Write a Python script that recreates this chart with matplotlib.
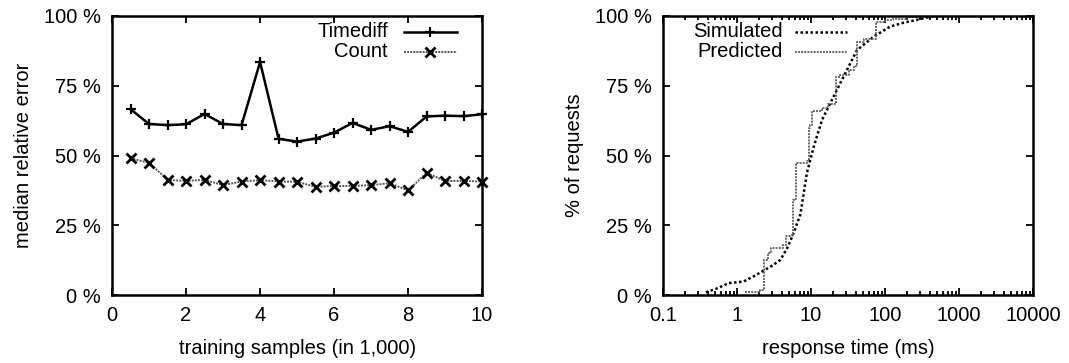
import matplotlib
matplotlib.use("Agg")
import matplotlib.pyplot as plt
from matplotlib.lines import Line2D
from matplotlib.ticker import FuncFormatter, LogLocator, NullFormatter

plt.rcParams["font.family"] = ["Liberation Sans", "DejaVu Sans"]
FS = 14.5

# training-set size (thousands) vs. median relative error (%)
samples = [0.5, 1.0, 1.5, 2.0, 2.5, 3.0, 3.5, 4.0, 4.5, 5.0,
           5.5, 6.0, 6.5, 7.0, 7.5, 8.0, 8.5, 9.0, 9.5, 10.0]
timediff = [66.6, 61.3, 60.9, 61.2, 64.9, 61.3, 60.9, 83.5, 56.0, 55.0,
            56.1, 58.2, 61.7, 59.2, 60.5, 58.5, 64.0, 64.3, 64.1, 64.8]
count = [49.0, 47.4, 41.3, 40.9, 41.3, 39.4, 40.7, 41.2, 40.7, 40.6,
         38.8, 39.1, 39.1, 39.4, 40.1, 37.5, 43.8, 40.9, 40.9, 40.7]

# response-time CDFs
sim_ms = [0.38, 0.55, 0.77, 1.0, 1.23, 1.7, 2.29, 3.0, 3.86, 4.8, 5.83, 7.2,
          8.8, 10.9, 14.1, 20.2, 27.6, 41.9, 70.3, 117, 180, 269, 455]
sim_pct = [1.0, 2.5, 4.3, 4.6, 4.9, 6.8, 8.8, 10.6, 12.6, 17.0, 22.2, 29.0,
           43.7, 53.2, 62.8, 71.1, 78.3, 87.8, 92.6, 96.2, 97.6, 98.6, 100.0]
pred_ms = [1.3, 2.05, 2.3, 2.6, 2.9, 4.2, 4.6, 5.6, 5.8, 6.2, 8.8, 9.3, 9.8,
           10.2, 14, 17, 21, 22, 25, 33, 38, 42, 52, 75, 100, 130, 200, 400]
pred_pct = [1.0, 1.7, 12.5, 15.0, 17.0, 18.0, 21.0, 22.0, 34.0, 47.3, 48.0,
            60.0, 61.0, 66.0, 67.0, 68.5, 69.0, 78.0, 79.0, 80.5, 82.0, 90.8,
            91.6, 98.0, 98.5, 99.0, 99.5, 100.0]

pct_fmt = FuncFormatter(lambda v, _: f"{v:.0f} %")


def style_axes(ax):
    for s in ax.spines.values():
        s.set_linewidth(1.8)
    ax.tick_params(which="both", direction="in", top=True, right=True,
                   width=1.3, labelsize=FS)
    ax.tick_params(which="major", length=5, pad=8)
    ax.tick_params(which="minor", length=3)
    ax.set_ylim(0, 100)
    ax.set_yticks([0, 25, 50, 75, 100])
    ax.yaxis.set_major_formatter(pct_fmt)


def key_entry(ax, y, label, span, style):
    x0, x1, xt = span
    ax.text(xt, y, label, transform=ax.transAxes, ha="right", va="center",
            fontsize=FS)
    line_kw = {k: v for k, v in style.items() if not k.startswith("marker")}
    ax.add_line(Line2D([x0, x1], [y, y], transform=ax.transAxes, **line_kw))
    if "marker" in style:
        ax.add_line(Line2D([(x0 + x1) / 2], [y], transform=ax.transAxes,
                           **dict(style, linestyle="none")))


fig = plt.figure(figsize=(10.69, 3.63), dpi=100)
ax1 = fig.add_axes([0.1048, 0.187, 0.3462, 0.769])
ax2 = fig.add_axes([0.6202, 0.187, 0.3461, 0.769])

td_style = dict(color="black", linestyle="-", linewidth=1.8, marker="+",
                markersize=7, markeredgewidth=1.6)
ct_style = dict(color="#555555", linestyle=(0, (1, 0.6)), linewidth=1.4,
                marker="x", markersize=6.5, markeredgewidth=2.0,
                markeredgecolor="black")
ax1.plot(samples, timediff, clip_on=False, **td_style)
ax1.plot(samples, count, clip_on=False, **ct_style)
style_axes(ax1)
ax1.set_xlim(0, 10)
ax1.set_xticks([0, 2, 4, 6, 8, 10])
ax1.set_xlabel("training samples (in 1,000)", fontsize=FS, labelpad=10)
ax1.set_ylabel("median relative error", fontsize=FS, labelpad=8)
key_entry(ax1, 0.943, "Timediff", (0.789, 0.932, 0.746), td_style)
key_entry(ax1, 0.871, "Count", (0.789, 0.932, 0.746), ct_style)

sim_style = dict(color="black", linestyle=(0, (1, 1)), linewidth=1.8)
pred_style = dict(color="#666666", linestyle=(0, (1, 0.6)), linewidth=1.4)
ax2.plot(sim_ms, sim_pct, **sim_style)
ax2.plot(pred_ms, pred_pct, drawstyle="steps-post", **pred_style)
ax2.set_xscale("log")
ax2.set_xlim(0.1, 10000)
style_axes(ax2)
ax2.xaxis.set_major_locator(LogLocator(base=10, numticks=10))
ax2.xaxis.set_minor_locator(LogLocator(base=10, subs=range(2, 10), numticks=50))
ax2.xaxis.set_minor_formatter(NullFormatter())
ax2.xaxis.set_major_formatter(FuncFormatter(lambda v, _: f"{v:g}"))
ax2.set_xlabel("response time (ms)", fontsize=FS, labelpad=10)
ax2.set_ylabel("% of requests", fontsize=FS, labelpad=8)
key_entry(ax2, 0.943, "Simulated", (0.357, 0.497, 0.324), sim_style)
key_entry(ax2, 0.871, "Predicted", (0.357, 0.497, 0.324), pred_style)

fig.savefig("out.png", dpi=100)
